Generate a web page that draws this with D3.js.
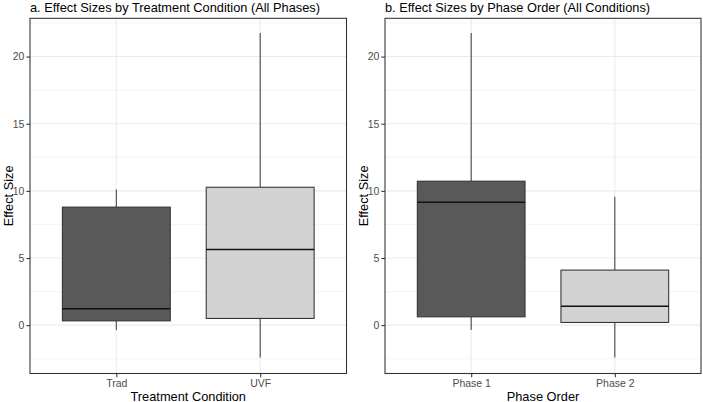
<!DOCTYPE html>
<html>
<head>
<meta charset="utf-8">
<script src="https://cdn.jsdelivr.net/npm/d3@7"></script>
<style>
  body { margin: 0; background: #fff; }
  text { font-family: "Liberation Sans", Arial, sans-serif; }
</style>
</head>
<body>
<div id="chart"></div>
<script>
// panel a
const condCats = ["Trad", "UVF"]
const condLowWhisk = [-0.37, -2.4]
const condQ1 = [0.32, 0.5]
const condMed = [1.23, 5.63]
const condQ3 = [8.79, 10.27]
const condHighWhisk = [10.1, 21.75]

// panel b
const phaseCats = ["Phase 1", "Phase 2"]
const phaseLowWhisk = [-0.37, -2.4]
const phaseQ1 = [0.62, 0.2]
const phaseMed = [9.16, 1.41]
const phaseQ3 = [10.72, 4.1]
const phaseHighWhisk = [21.75, 9.56]

const yTicks = [0, 5, 10, 15, 20]
const yMinor = [-2.5, 2.5, 7.5, 12.5, 17.5, 22.5]
const fills = ["#595959", "#d3d3d3"]

const width = 703
const height = 402

const svg = d3.select("#chart").append("svg")
    .attr("width", width)
    .attr("height", height)

const y = d3.scaleLinear()
    .domain([-3.6, 22.85])
    .range([373.5, 18.3])

function panel(left, right, title, xTitle, cats, lo, q1, med, q3, hi) {
    const g = svg.append("g")
    const x = d3.scalePoint().domain(cats).range([left, right]).padding(0.6)
    const top = y.range()[1], bottom = y.range()[0]

    // grid
    g.selectAll(".minor").data(yMinor).join("line")
        .attr("x1", left).attr("x2", right)
        .attr("y1", d => y(d)).attr("y2", d => y(d))
        .attr("stroke", "#ebebeb").attr("stroke-width", 0.55)
    g.selectAll(".major").data(yTicks).join("line")
        .attr("x1", left).attr("x2", right)
        .attr("y1", d => y(d)).attr("y2", d => y(d))
        .attr("stroke", "#ebebeb").attr("stroke-width", 1.07)
    g.selectAll(".vmajor").data(cats).join("line")
        .attr("x1", d => x(d)).attr("x2", d => x(d))
        .attr("y1", top).attr("y2", bottom)
        .attr("stroke", "#ebebeb").attr("stroke-width", 1.07)

    const bw = x.step() * 0.75
    const rows = cats.map((c, i) => ({ c, i, lo: lo[i], q1: q1[i], med: med[i], q3: q3[i], hi: hi[i] }))

    const box = g.selectAll(".box").data(rows).join("g")
    box.append("line")
        .attr("x1", d => x(d.c)).attr("x2", d => x(d.c))
        .attr("y1", d => y(d.hi)).attr("y2", d => y(d.q3))
        .attr("stroke", "#444").attr("stroke-width", 1.07)
    box.append("line")
        .attr("x1", d => x(d.c)).attr("x2", d => x(d.c))
        .attr("y1", d => y(d.q1)).attr("y2", d => y(d.lo))
        .attr("stroke", "#444").attr("stroke-width", 1.07)
    box.append("rect")
        .attr("x", d => x(d.c) - bw / 2)
        .attr("width", bw)
        .attr("y", d => y(d.q3))
        .attr("height", d => y(d.q1) - y(d.q3))
        .attr("fill", d => fills[d.i])
        .attr("stroke", "#333").attr("stroke-width", 1.07)
    box.append("line")
        .attr("x1", d => x(d.c) - bw / 2).attr("x2", d => x(d.c) + bw / 2)
        .attr("y1", d => y(d.med)).attr("y2", d => y(d.med))
        .attr("stroke", "#111").attr("stroke-width", 1.5)

    // border
    g.append("rect")
        .attr("x", left).attr("y", top)
        .attr("width", right - left).attr("height", bottom - top)
        .attr("fill", "none").attr("stroke", "#333").attr("stroke-width", 1.07)

    // y axis
    const ya = g.append("g").attr("transform", `translate(${left},0)`)
        .call(d3.axisLeft(y).tickValues(yTicks).tickSize(3.7).tickPadding(2))
    ya.select(".domain").remove()
    ya.selectAll(".tick line").attr("stroke", "#333").attr("stroke-width", 1.07)
    ya.selectAll(".tick text").attr("fill", "#4d4d4d").attr("font-size", 10.5)
        .attr("font-family", "Liberation Sans, Arial, sans-serif")

    // x axis
    const xa = g.append("g").attr("transform", `translate(0,${bottom})`)
        .call(d3.axisBottom(x).tickSize(3.7).tickPadding(2))
    xa.select(".domain").remove()
    xa.selectAll(".tick line").attr("stroke", "#333").attr("stroke-width", 1.07)
    xa.selectAll(".tick text").attr("fill", "#4d4d4d").attr("font-size", 10.5)
        .attr("font-family", "Liberation Sans, Arial, sans-serif")

    g.append("text")
        .attr("x", (left + right) / 2).attr("y", 400.5)
        .attr("text-anchor", "middle")
        .attr("font-size", 12.8)
        .text(xTitle)

    g.append("text")
        .attr("transform", `translate(${left - 17},${(top + bottom) / 2}) rotate(-90)`)
        .attr("text-anchor", "middle")
        .attr("font-size", 12.8)
        .text("Effect Size")

    g.append("text")
        .attr("x", left).attr("y", 12)
        .attr("font-size", 12.8)
        .text(title)
}

panel(30, 346.5, "a. Effect Sizes by Treatment Condition (All Phases)", "Treatment Condition",
    condCats, condLowWhisk, condQ1, condMed, condQ3, condHighWhisk)
panel(385, 701, "b. Effect Sizes by Phase Order (All Conditions)", "Phase Order",
    phaseCats, phaseLowWhisk, phaseQ1, phaseMed, phaseQ3, phaseHighWhisk)
</script>
</body>
</html>
